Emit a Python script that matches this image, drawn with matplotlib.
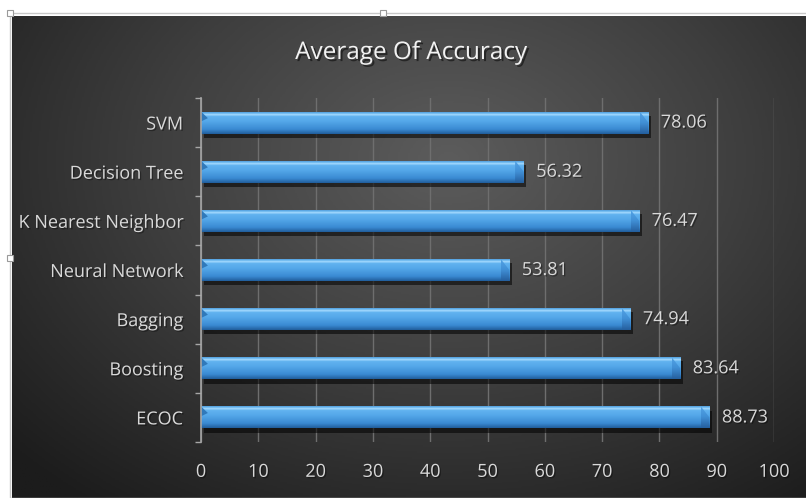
import numpy as np
import matplotlib
matplotlib.use("Agg")
import matplotlib.pyplot as plt
from matplotlib.colors import LinearSegmentedColormap
from matplotlib.patches import Rectangle, Polygon
import matplotlib.patheffects as pe

# data
models = ["SVM", "Decision Tree", "K Nearest Neighbor", "Neural Network",
          "Bagging", "Boosting", "ECOC"]
accuracy = [78.06, 56.32, 76.47, 53.81, 74.94, 83.64, 88.73]
xticks = [0, 10, 20, 30, 40, 50, 60, 70, 80, 90, 100]
title = "Average Of Accuracy"

plt.rcParams["font.family"] = ["Open Sans", "DejaVu Sans"]

W, H = 806, 498
fig = plt.figure(figsize=(W / 100, H / 100), dpi=100, facecolor="white")

# dark radial background
bg = fig.add_axes([12 / W, 0, 1 - 12 / W, (H - 16) / H])
bg.set_axis_off()
yy, xx = np.mgrid[0:1:300j, 0:1:500j]
r = np.sqrt(((xx - 0.55) / 0.75) ** 2 + ((yy - 0.3) / 0.9) ** 2)
bg_cmap = LinearSegmentedColormap.from_list("bg", ["#5c5c5c", "#3e3e3e", "#1c1c1c"])
bg.imshow(np.clip(r, 0, 1), cmap=bg_cmap, aspect="auto", extent=[0, 1, 1, 0],
          vmin=0, vmax=1)
bg.set_xlim(0, 1)
bg.set_ylim(1, 0)

# thin frame + selection handles
fig.patches.append(Rectangle((10 / W, 0), 1, (H - 13) / H, transform=fig.transFigure,
                             fill=False, edgecolor="#c8c8c8", lw=1))
for hx, hy in [(10, 13), (383, 13), (10, 258)]:
    fig.patches.append(Rectangle(((hx - 3) / W, (H - hy - 3) / H), 6 / W, 6 / H,
                                 transform=fig.transFigure, facecolor="white",
                                 edgecolor="#9a9a9a", lw=0.8, zorder=10))

ax = fig.add_axes([201 / W, 56 / H, 573 / W, 344 / H])
ax.set_facecolor("none")

ypos = np.arange(len(models))
bar_h = 0.45
bars = ax.barh(ypos, accuracy, height=bar_h, color="#4a9be0", zorder=3,
               path_effects=[pe.SimplePatchShadow(offset=(2, -3), shadow_rgbFace="black",
                                                  alpha=0.55), pe.Normal()])

# gradient runs bottom (0) -> top (1)
bar_cmap = LinearSegmentedColormap.from_list("bar", [
    (0.0, "#215e9c"), (0.2, "#3a8ad2"), (0.55, "#54a7e9"), (0.78, "#62b3f0"),
    (0.85, "#a9dcff"), (0.91, "#6ab6ee"), (1.0, "#3f8ccf")])
end_cmap = LinearSegmentedColormap.from_list("end", ["#255f9e", "#4190d6", "#55a4e6"])
grad = np.linspace(0, 1, 64).reshape(-1, 1)
bevel = 1.5
for b in bars:
    x0, y0, w, h = b.get_x(), b.get_y(), b.get_width(), b.get_height()
    im = ax.imshow(grad, cmap=bar_cmap, aspect="auto", origin="lower",
                   extent=[x0, x0 + w, y0 + h, y0], zorder=4)
    im.set_clip_path(b)
    # bevelled right end face
    face = Polygon([(x0 + w - bevel, y0), (x0 + w, y0 + 0.5 * h), (x0 + w, y0 + h),
                    (x0 + w - bevel, y0 + h)], closed=True, facecolor="none",
                   edgecolor="none", zorder=5)
    ax.add_patch(face)
    im2 = ax.imshow(grad, cmap=end_cmap, aspect="auto", origin="lower",
                    extent=[x0 + w - bevel, x0 + w, y0 + h, y0], zorder=5)
    im2.set_clip_path(face)
    # small cut on the left end
    ax.add_patch(Polygon([(x0, y0), (x0 + bevel * 0.8, y0 + 0.3 * h), (x0, y0 + 0.45 * h)],
                         closed=True, facecolor="#3079ba", edgecolor="none", zorder=5))

txt_fx = [pe.withSimplePatchShadow(offset=(1, -1), alpha=0.35, shadow_rgbFace="black")]
for yv, v in zip(ypos, accuracy):
    ax.annotate(f"{v:.2f}", xy=(v, yv), xytext=(9, 0), textcoords="offset points",
                va="center", ha="left", color="#d9d9d9", fontsize=13, zorder=6,
                path_effects=txt_fx)

ax.set_xlim(0, 100)
ax.set_ylim(len(models) - 0.5, -0.5)
ax.set_xticks(xticks)
ax.set_xticklabels([str(t) for t in xticks])
ax.set_yticks(ypos)
ax.set_yticklabels(models)
ax.set_yticks(np.arange(-0.5, len(models)), minor=True)
ax.tick_params(axis="y", which="major", length=0, pad=13, labelsize=13, labelcolor="#d9d9d9")
ax.tick_params(axis="y", which="minor", length=4, width=1, color="#a6a6a6", direction="out")
ax.tick_params(axis="x", length=0, pad=15, labelsize=13, labelcolor="#d9d9d9")
for lab in ax.get_xticklabels() + ax.get_yticklabels():
    lab.set_path_effects(txt_fx)

ax.grid(axis="x", color="#6e6e6e", lw=1, zorder=1)
ax.set_axisbelow(True)
for s in ["top", "right", "bottom"]:
    ax.spines[s].set_visible(False)
ax.spines["left"].set_color("#a6a6a6")
ax.spines["left"].set_linewidth(1.2)
ax.spines["left"].set_zorder(5)

fig.text(411 / W, 1 - 53 / H, title, ha="center", va="center", color="#f2f2f2",
         fontsize=17.5, path_effects=[pe.withSimplePatchShadow(offset=(1.5, -1.5), alpha=0.5,
                                                               shadow_rgbFace="black")])

fig.savefig("out.png", dpi=100, facecolor="white")
